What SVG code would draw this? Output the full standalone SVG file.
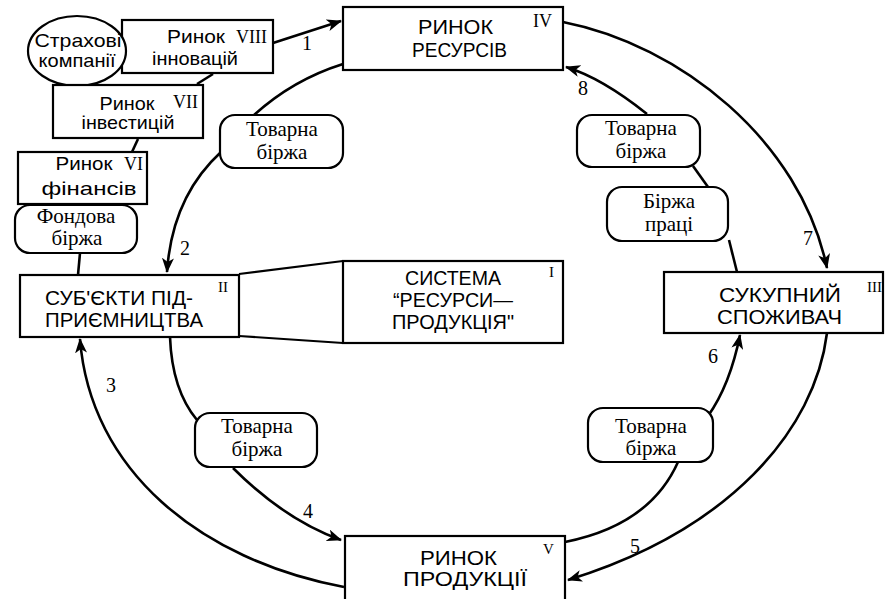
<svg xmlns="http://www.w3.org/2000/svg" width="885" height="599" viewBox="0 0 885 599">
<style>
.bx{fill:#fff;stroke:#000;stroke-width:2.2}
.rb{fill:#fff;stroke:#000;stroke-width:2.2}
.ln{fill:none;stroke:#000;stroke-width:2.6}
.big{font-family:"Liberation Sans",Arial,sans-serif;font-size:20px;text-anchor:middle;fill:#000}
.sm{font-family:"Liberation Sans",Arial,sans-serif;font-size:19px;text-anchor:middle;fill:#000}
.se{font-family:"Liberation Serif","Times New Roman",serif;font-size:21px;text-anchor:middle;fill:#000}
.rn{font-family:"Liberation Serif","Times New Roman",serif;font-size:18px;fill:#000}
.rs{font-family:"Liberation Serif","Times New Roman",serif;font-size:15px;fill:#000}
.nm{font-family:"Liberation Serif","Times New Roman",serif;font-size:20px;fill:#000}
</style>
<defs>
<marker id="ah" markerUnits="userSpaceOnUse" markerWidth="16" markerHeight="12" refX="14" refY="6" orient="auto">
<path d="M0,0 L15,6 L0,12 L4,6 Z" fill="#000"/>
</marker>
</defs>
<rect width="885" height="599" fill="#fff"/>
<g id="connectors">
<path class="ln" d="M273,43 L341,21" marker-end="url(#ah)"/>
<path class="ln" d="M343,64 Q292,80 253,116"/>
<path class="ln" d="M221,152 Q172,197 167,272" marker-end="url(#ah)"/>
<path class="ln" d="M563,22 C680,45 800,140 827,268" marker-end="url(#ah)"/>
<path class="ln" d="M647,114 Q602,78 566,67" marker-end="url(#ah)"/>
<path class="ln" d="M693,166 L708,187"/>
<path class="ln" d="M729,240 L737,272"/>
<path class="ln" d="M708,416 Q730,385 740,335" marker-end="url(#ah)"/>
<path class="ln" d="M827,333 C815,430 730,530 568,580" marker-end="url(#ah)"/>
<path class="ln" d="M678,462 Q650,525 565,542"/>
<path class="ln" d="M344,587 C200,560 90,470 80,339" marker-end="url(#ah)"/>
<path class="ln" d="M170,337 Q172,390 197,420"/>
<path class="ln" d="M233,468 Q285,520 341,540" marker-end="url(#ah)"/>
<path class="ln" d="M213,74 L197,84"/>
<path class="ln" d="M138,139 L132,152"/>
<path class="ln" d="M80,253 L78,275"/>
<path fill="none" stroke="#000" stroke-width="2.2" d="M239,274 L343,261 M239,336 L343,343"/>
</g>
<g id="n-resources">
<rect class="bx" x="343" y="7" width="220" height="63"/>
<text class="big" x="455.5" y="34" textLength="75" lengthAdjust="spacingAndGlyphs">РИНОК</text>
<text class="big" x="459.5" y="57" textLength="95" lengthAdjust="spacingAndGlyphs">РЕСУРСІВ</text>
<text class="rn" x="533" y="27">IV</text>
</g>
<g id="n-consumer">
<rect class="bx" x="664" y="272" width="219" height="61"/>
<text class="big" x="780" y="302" textLength="122" lengthAdjust="spacingAndGlyphs">СУКУПНИЙ</text>
<text class="big" x="779.5" y="324" textLength="125" lengthAdjust="spacingAndGlyphs">СПОЖИВАЧ</text>
<text class="rs" x="867" y="292">III</text>
</g>
<g id="n-entrepreneurs">
<rect class="bx" x="20" y="275" width="219" height="62"/>
<text class="big" x="119" y="305" textLength="148" lengthAdjust="spacingAndGlyphs">СУБ'ЄКТИ ПІД-</text>
<text class="big" x="124" y="327" textLength="158" lengthAdjust="spacingAndGlyphs">ПРИЄМНИЦТВА</text>
<text class="rs" x="218" y="292">II</text>
</g>
<g id="n-system">
<rect class="bx" x="343" y="261" width="220" height="82"/>
<text class="big" x="453" y="285" textLength="96" lengthAdjust="spacingAndGlyphs">СИСТЕМА</text>
<text class="big" x="453" y="307" textLength="120" lengthAdjust="spacingAndGlyphs">“РЕСУРСИ—</text>
<text class="big" x="453" y="329" textLength="122" lengthAdjust="spacingAndGlyphs">ПРОДУКЦІЯ"</text>
<text class="rs" x="549" y="277">I</text>
</g>
<g id="n-products">
<rect class="bx" x="345" y="536" width="220" height="66"/>
<text class="big" x="458.5" y="565" textLength="77" lengthAdjust="spacingAndGlyphs">РИНОК</text>
<text class="big" x="465" y="586" textLength="124" lengthAdjust="spacingAndGlyphs">ПРОДУКЦІЇ</text>
<text class="rs" x="543" y="554">V</text>
</g>
<g id="n-innovation">
<rect class="bx" x="122" y="20" width="151" height="53"/>
<text class="sm" x="196" y="43" textLength="58" lengthAdjust="spacingAndGlyphs">Ринок</text>
<text class="sm" x="195" y="65" textLength="86" lengthAdjust="spacingAndGlyphs">інновацій</text>
<text class="rn" x="236" y="43">VIII</text>
</g>
<g id="n-insurance">
<ellipse class="bx" cx="77" cy="51" rx="49" ry="35"/>
<text class="sm" x="78" y="47" textLength="87" lengthAdjust="spacingAndGlyphs">Страхові</text>
<text class="sm" x="77" y="67" textLength="77" lengthAdjust="spacingAndGlyphs">компанії</text>
</g>
<g id="n-investment">
<rect class="bx" x="53" y="85" width="150" height="53"/>
<text class="sm" x="127" y="110" textLength="55" lengthAdjust="spacingAndGlyphs">Ринок</text>
<text class="sm" x="128" y="129" textLength="93" lengthAdjust="spacingAndGlyphs">інвестицій</text>
<text class="rn" x="173" y="108">VII</text>
</g>
<g id="n-finance">
<rect class="bx" x="18" y="152" width="129" height="52"/>
<text class="sm" x="84" y="170" textLength="57" lengthAdjust="spacingAndGlyphs">Ринок</text>
<text class="sm" x="89" y="195" textLength="95" lengthAdjust="spacingAndGlyphs">фінансів</text>
<text class="rn" x="124" y="170">VI</text>
</g>
<g id="n-stock">
<rect class="rb" x="15" y="205" width="122" height="48" rx="15"/>
<text class="se" x="76" y="223">Фондова</text>
<text class="se" x="77" y="245">біржа</text>
</g>
<g id="n-commodity-tl">
<rect class="rb" x="220" y="115" width="123" height="53" rx="15"/>
<text class="se" x="282" y="136">Товарна</text>
<text class="se" x="282" y="159">біржа</text>
</g>
<g id="n-commodity-tr">
<rect class="rb" x="577" y="115" width="123" height="52" rx="15"/>
<text class="se" x="641" y="135">Товарна</text>
<text class="se" x="641" y="158">біржа</text>
</g>
<g id="n-labour">
<rect class="rb" x="607" y="187" width="121" height="54" rx="15"/>
<text class="se" x="669" y="208">Біржа</text>
<text class="se" x="669" y="231">праці</text>
</g>
<g id="n-commodity-bl">
<rect class="rb" x="195" y="413" width="122" height="54" rx="15"/>
<text class="se" x="257" y="433">Товарна</text>
<text class="se" x="257" y="456">біржа</text>
</g>
<g id="n-commodity-br">
<rect class="rb" x="588" y="408" width="125" height="54" rx="15"/>
<text class="se" x="651" y="433">Товарна</text>
<text class="se" x="651" y="455">біржа</text>
</g>
<g id="labels">
<text class="nm" x="302" y="50">1</text>
<text class="nm" x="180" y="255">2</text>
<text class="nm" x="106" y="392">3</text>
<text class="nm" x="303" y="518">4</text>
<text class="nm" x="630" y="553">5</text>
<text class="nm" x="708" y="363">6</text>
<text class="nm" x="803" y="245">7</text>
<text class="nm" x="578" y="95">8</text>
</g>
</svg>
